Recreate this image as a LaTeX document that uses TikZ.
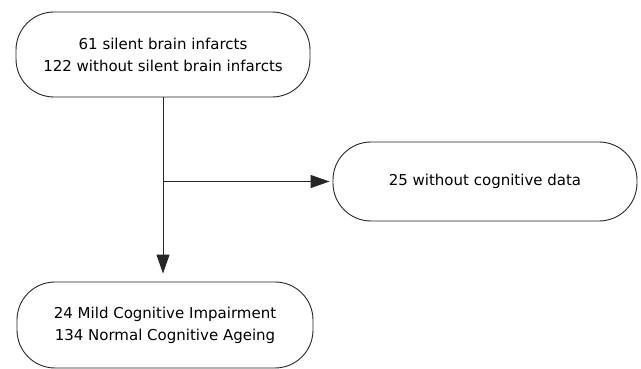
\documentclass[tikz,border=0pt]{standalone}
\usepackage{fontspec}
\setmainfont{DejaVu Sans}
\usetikzlibrary{arrows.meta}
\begin{document}
\begin{tikzpicture}[x=1pt,y=-1pt,
  box/.style={draw=black!85, line width=0.9pt, rounded corners=38pt, align=center,
    font=\fontsize{15}{22}\selectfont, inner sep=0pt},
  conn/.style={draw=black!85, line width=0.9pt, -{Triangle[length=19pt,width=13pt]}}]
\useasboundingbox (0,0) rectangle (641,369);
\begin{scope}
\clip (0,0) rectangle (641,369);
\node[box, minimum width=294pt, minimum height=85pt] (top) at (163,54.5) {61 silent brain infarcts\\122 without silent brain infarcts};
\node[box, minimum width=304pt, minimum height=79pt] (right) at (485,181.5) {25 without cognitive data};
\node[box, minimum width=296pt, minimum height=86pt] (bot) at (165,325) {24 Mild Cognitive Impairment\\134 Normal Cognitive Ageing};
\coordinate (branch) at (163,181.5);
\draw[conn, shorten >=8pt] (top.south -| branch) -- (branch |- bot.north);
\draw[conn, shorten >=3pt] (branch) -- (right.west);
\end{scope}
\end{tikzpicture}
\end{document}
